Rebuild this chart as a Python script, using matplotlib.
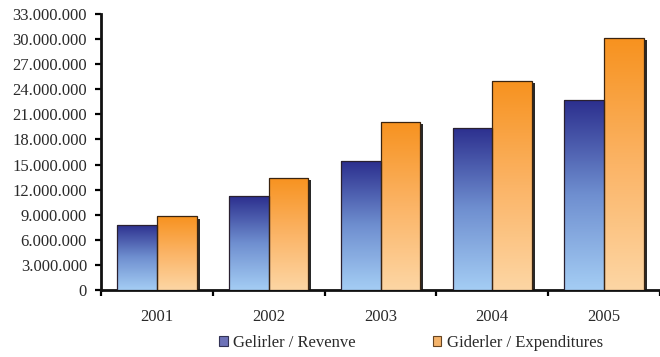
import numpy as np
import matplotlib
matplotlib.use('Agg')
import matplotlib.pyplot as plt
import matplotlib.patheffects as pe
from matplotlib.colors import LinearSegmentedColormap
from matplotlib.patches import Patch
from matplotlib.ticker import FuncFormatter

plt.rcParams['font.family'] = ['Liberation Serif', 'DejaVu Serif']

years = ['2001', '2002', '2003', '2004', '2005']
revenue = [7.8e6, 11.2e6, 15.4e6, 19.4e6, 22.7e6]
expenditure = [8.8e6, 13.4e6, 20.1e6, 25.0e6, 30.1e6]
series_names = ['Gelirler / Revenve', 'Giderler / Expenditures']

blue_cmap = LinearSegmentedColormap.from_list('blue', ['#a4cdf4', '#6f8fd0', '#2c2f8e'])
orange_cmap = LinearSegmentedColormap.from_list('orange', ['#fdd6a4', '#fbb466', '#f7921f'])


def shade_bars(ax, bars, cmap):
    grad = np.linspace(0, 1, 256).reshape(-1, 1)
    for b in bars:
        x0, y0 = b.get_x(), b.get_y()
        w, h = b.get_width(), b.get_height()
        im = ax.imshow(grad, extent=(x0, x0 + w, y0, y0 + h), origin='lower',
                       cmap=cmap, aspect='auto', zorder=3, interpolation='bicubic')
        im.set_clip_path(b)


fig = plt.figure(figsize=(6.6, 3.57), dpi=100)
ax = fig.add_axes([101 / 660, 1 - 290 / 357, 559 / 660, 276 / 357])

x = np.arange(len(years))
w = 0.355
shadow = [pe.SimplePatchShadow(offset=(2.2, -1.6), shadow_rgbFace='#111111', alpha=0.9), pe.Normal()]

b1 = ax.bar(x - w / 2, revenue, w, color='#6f8fd0', linewidth=0, zorder=2, path_effects=shadow)
b2 = ax.bar(x + w / 2, expenditure, w, color='#fbb466', linewidth=0, zorder=2, path_effects=shadow)
shade_bars(ax, b1, blue_cmap)
shade_bars(ax, b2, orange_cmap)
ax.bar(x - w / 2, revenue, w, fill=False, edgecolor='#2a2030', linewidth=0.9, zorder=4)
ax.bar(x + w / 2, expenditure, w, fill=False, edgecolor='#3a2410', linewidth=0.9, zorder=4)

ax.set_xlim(-0.5, -0.5 + 559 / 112.7)
ax.set_ylim(0, 33e6)
ax.set_yticks(np.arange(0, 33e6 + 1, 3e6))
ax.yaxis.set_major_formatter(FuncFormatter(lambda v, p: f'{v:,.0f}'.replace(',', '.')))
ax.set_xticks(x)
ax.set_xticklabels(years)
ax.set_xticks(np.arange(-0.5, 5, 1), minor=True)

for s in ['top', 'right']:
    ax.spines[s].set_visible(False)
for s in ['left', 'bottom']:
    ax.spines[s].set_linewidth(2)
    ax.spines[s].set_color('#111111')

ax.tick_params(axis='y', direction='out', length=4, width=1.6, pad=6,
               labelsize=12, labelcolor='#2a2a2a')
ax.tick_params(axis='x', which='major', length=0, pad=14, labelsize=12, labelcolor='#2a2a2a')
ax.tick_params(axis='x', which='minor', direction='out', length=4, width=1.6)

handles = [Patch(facecolor='#6d72b8', edgecolor='#333355', linewidth=0.8),
           Patch(facecolor='#f4b36a', edgecolor='#664422', linewidth=0.8)]
fig.legend(handles, series_names, loc='center', bbox_to_anchor=(0.623, 0.04), ncol=2,
           frameon=False, fontsize=12, handlelength=0.5, handleheight=0.5,
           handletextpad=0.35, columnspacing=4.6, labelcolor='#2a2a2a')

fig.savefig('out.png', dpi=100)
